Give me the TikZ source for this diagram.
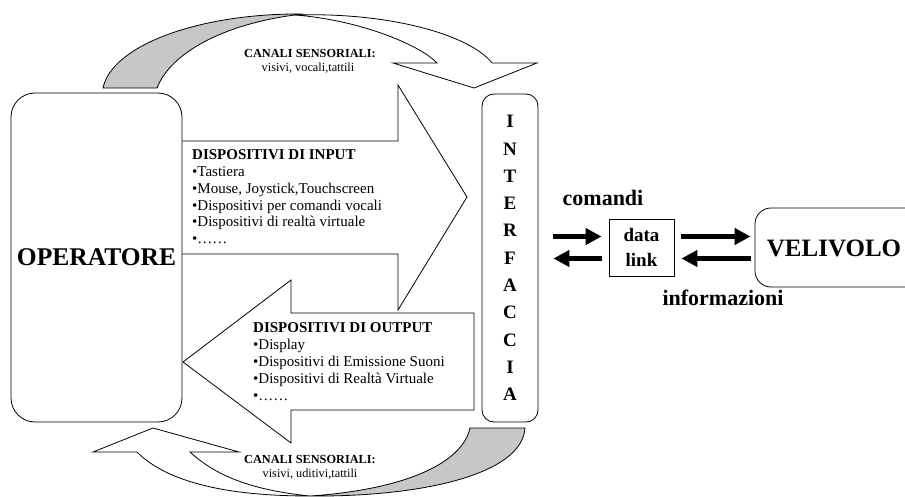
\documentclass[tikz,border=0pt]{standalone}
\usepackage{fontspec}
\setmainfont{Liberation Serif}
\usetikzlibrary{arrows.meta}
\newcommand\setfs[2]{\fontsize{#1}{#2}\selectfont}
\begin{document}
\begin{tikzpicture}[x=1pt,y=-1pt,
  outl/.style={draw=black, line width=0.8pt, line join=miter},
  shadedpart/.style={outl, fill=black!22},
  whitepart/.style={outl, fill=white},
  roundbox/.style={draw=black, line width=0.8pt, inner sep=0pt},
  bigarrow/.style={line width=5pt, -{Triangle[length=16pt,width=16pt]}},
  listtext/.style={anchor=north west, align=left, inner sep=0pt, font=\setfs{15}{16.8}},
  chantitle/.style={anchor=base, inner sep=0pt, font=\setfs{12.3}{14}\bfseries},
  chantext/.style={anchor=base, inner sep=0pt, font=\setfs{12.3}{14}},
  biglabel/.style={anchor=base, inner sep=0pt, font=\setfs{22}{26}\bfseries}
]
\clip (0,0) rectangle (905,497);

% top curved arrow (sensory channels)
\path[shadedpart] (103,88) .. controls (112,45) and (200,13) .. (303,14)
  .. controls (230,22) and (172,50) .. (157,88) -- cycle;
\path[whitepart] (295,15) .. controls (390,12) and (470,35) .. (492,63)
  -- (537,63) -- (474,88) -- (393,63) -- (437,63)
  .. controls (420,45) and (360,20) .. (295,15) -- cycle;
\node[chantitle] (ctop) at (310,58) {CANALI SENSORIALI:};
\node[chantext] (vtop) at (308,72) {visivi, vocali,tattili};

% bottom curved arrow
\path[shadedpart] (525,428) .. controls (522,475) and (420,497) .. (310,496)
  .. controls (400,490) and (462,465) .. (470,428) -- cycle;
\path[whitepart] (310,496) .. controls (220,496) and (165,480) .. (137,452)
  -- (93,452) -- (153,428) -- (239,452) -- (190,452)
  .. controls (215,475) and (250,490) .. (310,496) -- cycle;
\node[chantitle] (cbot) at (310,463) {CANALI SENSORIALI:};
\node[chantext] (vbot) at (310,477) {visivi, uditivi,tattili};

% input block arrow
\path[whitepart] (182.4,141) -- (398,141) -- (398,85) -- (467,197)
  -- (398,310) -- (398,254) -- (182.4,254);
\node[listtext] (intxt) at (192,149.5)
  {\textbf{DISPOSITIVI DI INPUT}\\•Tastiera\\•Mouse, Joystick,Touchscreen\\•Dispositivi per comandi vocali\\•Dispositivi di realtà virtuale\\•……};

% output block arrow
\path[whitepart] (474,313) -- (291,313) -- (291,280) -- (183,362)
  -- (291,443) -- (291,410) -- (474,410) -- cycle;
\node[listtext, font=\setfs{15}{17}] (outtxt) at (253,322.5)
  {\textbf{DISPOSITIVI DI OUTPUT}\\•Display\\•Dispositivi di Emissione Suoni\\•Dispositivi di Realtà Virtuale\\•……};

% boxes
\node[roundbox, rounded corners=24pt, minimum width=171pt, minimum height=329pt,
  font=\setfs{25.5}{30}\bfseries] (op) at (96.5,257.5) {OPERATORE};
\node[roundbox, rounded corners=12pt, minimum width=56pt, minimum height=328pt,
  align=center, font=\setfs{19}{27.3}\bfseries] (ifc) at (510,258)
  {I\\N\\T\\E\\R\\F\\A\\C\\C\\I\\A};
\node[roundbox, minimum width=65pt, minimum height=57pt, align=center,
  font=\setfs{19}{25}\bfseries] (dl) at (641.5,247.5) {data\\link};
\node[roundbox, rounded corners=16pt, minimum width=205pt, minimum height=79pt] (vel) at (857.5,247.5) {};
\node[anchor=base, inner sep=0pt, font=\setfs{25}{30}\bfseries] (veltxt) at (834,257) {VELIVOLO};

% data link connectors
\draw[bigarrow, shorten <=15pt, shorten >=7pt] ([yshift=11pt]dl.west -| ifc.east) -- ([yshift=11pt]dl.west);
\draw[bigarrow, shorten <=7pt, shorten >=15pt] ([yshift=-11pt]dl.west) -- ([yshift=-11pt]dl.west -| ifc.east);
\draw[bigarrow, shorten <=7pt, shorten >=4pt] ([yshift=11pt]dl.east) -- ([yshift=11pt]dl.east -| vel.west);
\draw[bigarrow, shorten <=4pt, shorten >=7pt] ([yshift=-11pt]dl.east -| vel.west) -- ([yshift=-11pt]dl.east);

\node[biglabel] (cmd) at (603,206) {comandi};
\node[biglabel] (inf) at (723,305) {informazioni};
\end{tikzpicture}
\end{document}
